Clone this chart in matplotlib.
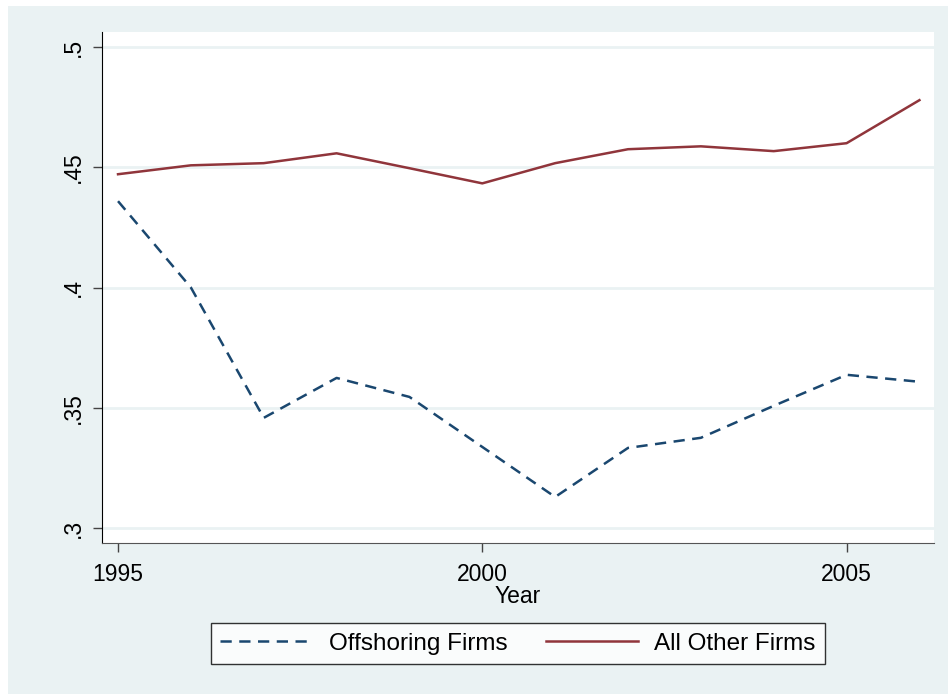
import matplotlib.pyplot as plt
from matplotlib.patches import Rectangle

years = [1995, 1996, 1997, 1998, 1999, 2000, 2001, 2002, 2003, 2004, 2005, 2006]
offshoring = [0.4359, 0.4000, 0.3458, 0.3624, 0.3545, 0.3337, 0.3129, 0.3333, 0.3375, 0.3508, 0.3637, 0.3608]
all_other = [0.4471, 0.4508, 0.4517, 0.4558, 0.4496, 0.4433, 0.4517, 0.4575, 0.4587, 0.4567, 0.4600, 0.4779]

x_ticks = [1995, 2000, 2005]
y_ticks = [0.3, 0.35, 0.4, 0.45, 0.5]
y_labels = [".3", ".35", ".4", ".45", ".5"]

bg = "#eaf2f3"
plt.rcParams["font.family"] = ["Liberation Sans", "DejaVu Sans"]

fig = plt.figure(figsize=(9.48, 6.94), dpi=100, facecolor="white")
W, H = 948, 694
fig.patches.append(Rectangle((8 / W, 0), 1 - 8 / W, 1 - 6 / H,
                             transform=fig.transFigure, facecolor=bg,
                             edgecolor="none", zorder=-10))

ax = fig.add_axes([102 / W, 1 - 543 / H, (934 - 102) / W, (543 - 32) / H])
ax.set_facecolor("white")

ax.plot(years, offshoring, color="#1a476f", linewidth=1.8,
        dashes=(4.5, 3), label="Offshoring Firms")
ax.plot(years, all_other, color="#90353b", linewidth=1.8,
        label="All Other Firms")

ax.set_xlim(1994.78, 2006.2)
ax.set_ylim(0.29376, 0.50624)
ax.set_xticks(x_ticks)
ax.set_yticks(y_ticks)
ax.set_yticklabels(y_labels, rotation=90, va="center")
ax.tick_params(axis="both", labelsize=16.5, length=6.5, width=1,
               color="#444444", pad=6)
ax.tick_params(axis="x", pad=8)

for y in y_ticks:
    ax.axhline(y, color=bg, linewidth=2, zorder=0)

for side in ["top", "right"]:
    ax.spines[side].set_visible(False)
ax.spines["left"].set_color("black")
ax.spines["bottom"].set_color("#555555")

ax.set_xlabel("Year", fontsize=16.5, labelpad=-1)

leg = fig.legend(loc="center", bbox_to_anchor=(518 / W, 1 - 643.5 / H),
                 ncol=2, fontsize=17.5, frameon=True, fancybox=False,
                 handlelength=3.8, handletextpad=0.65, columnspacing=1.6,
                 borderpad=0.4)
leg.get_frame().set_edgecolor("black")
leg.get_frame().set_linewidth(1)
leg.get_frame().set_facecolor("white")

fig.savefig("out.png", dpi=100, facecolor=fig.get_facecolor())
